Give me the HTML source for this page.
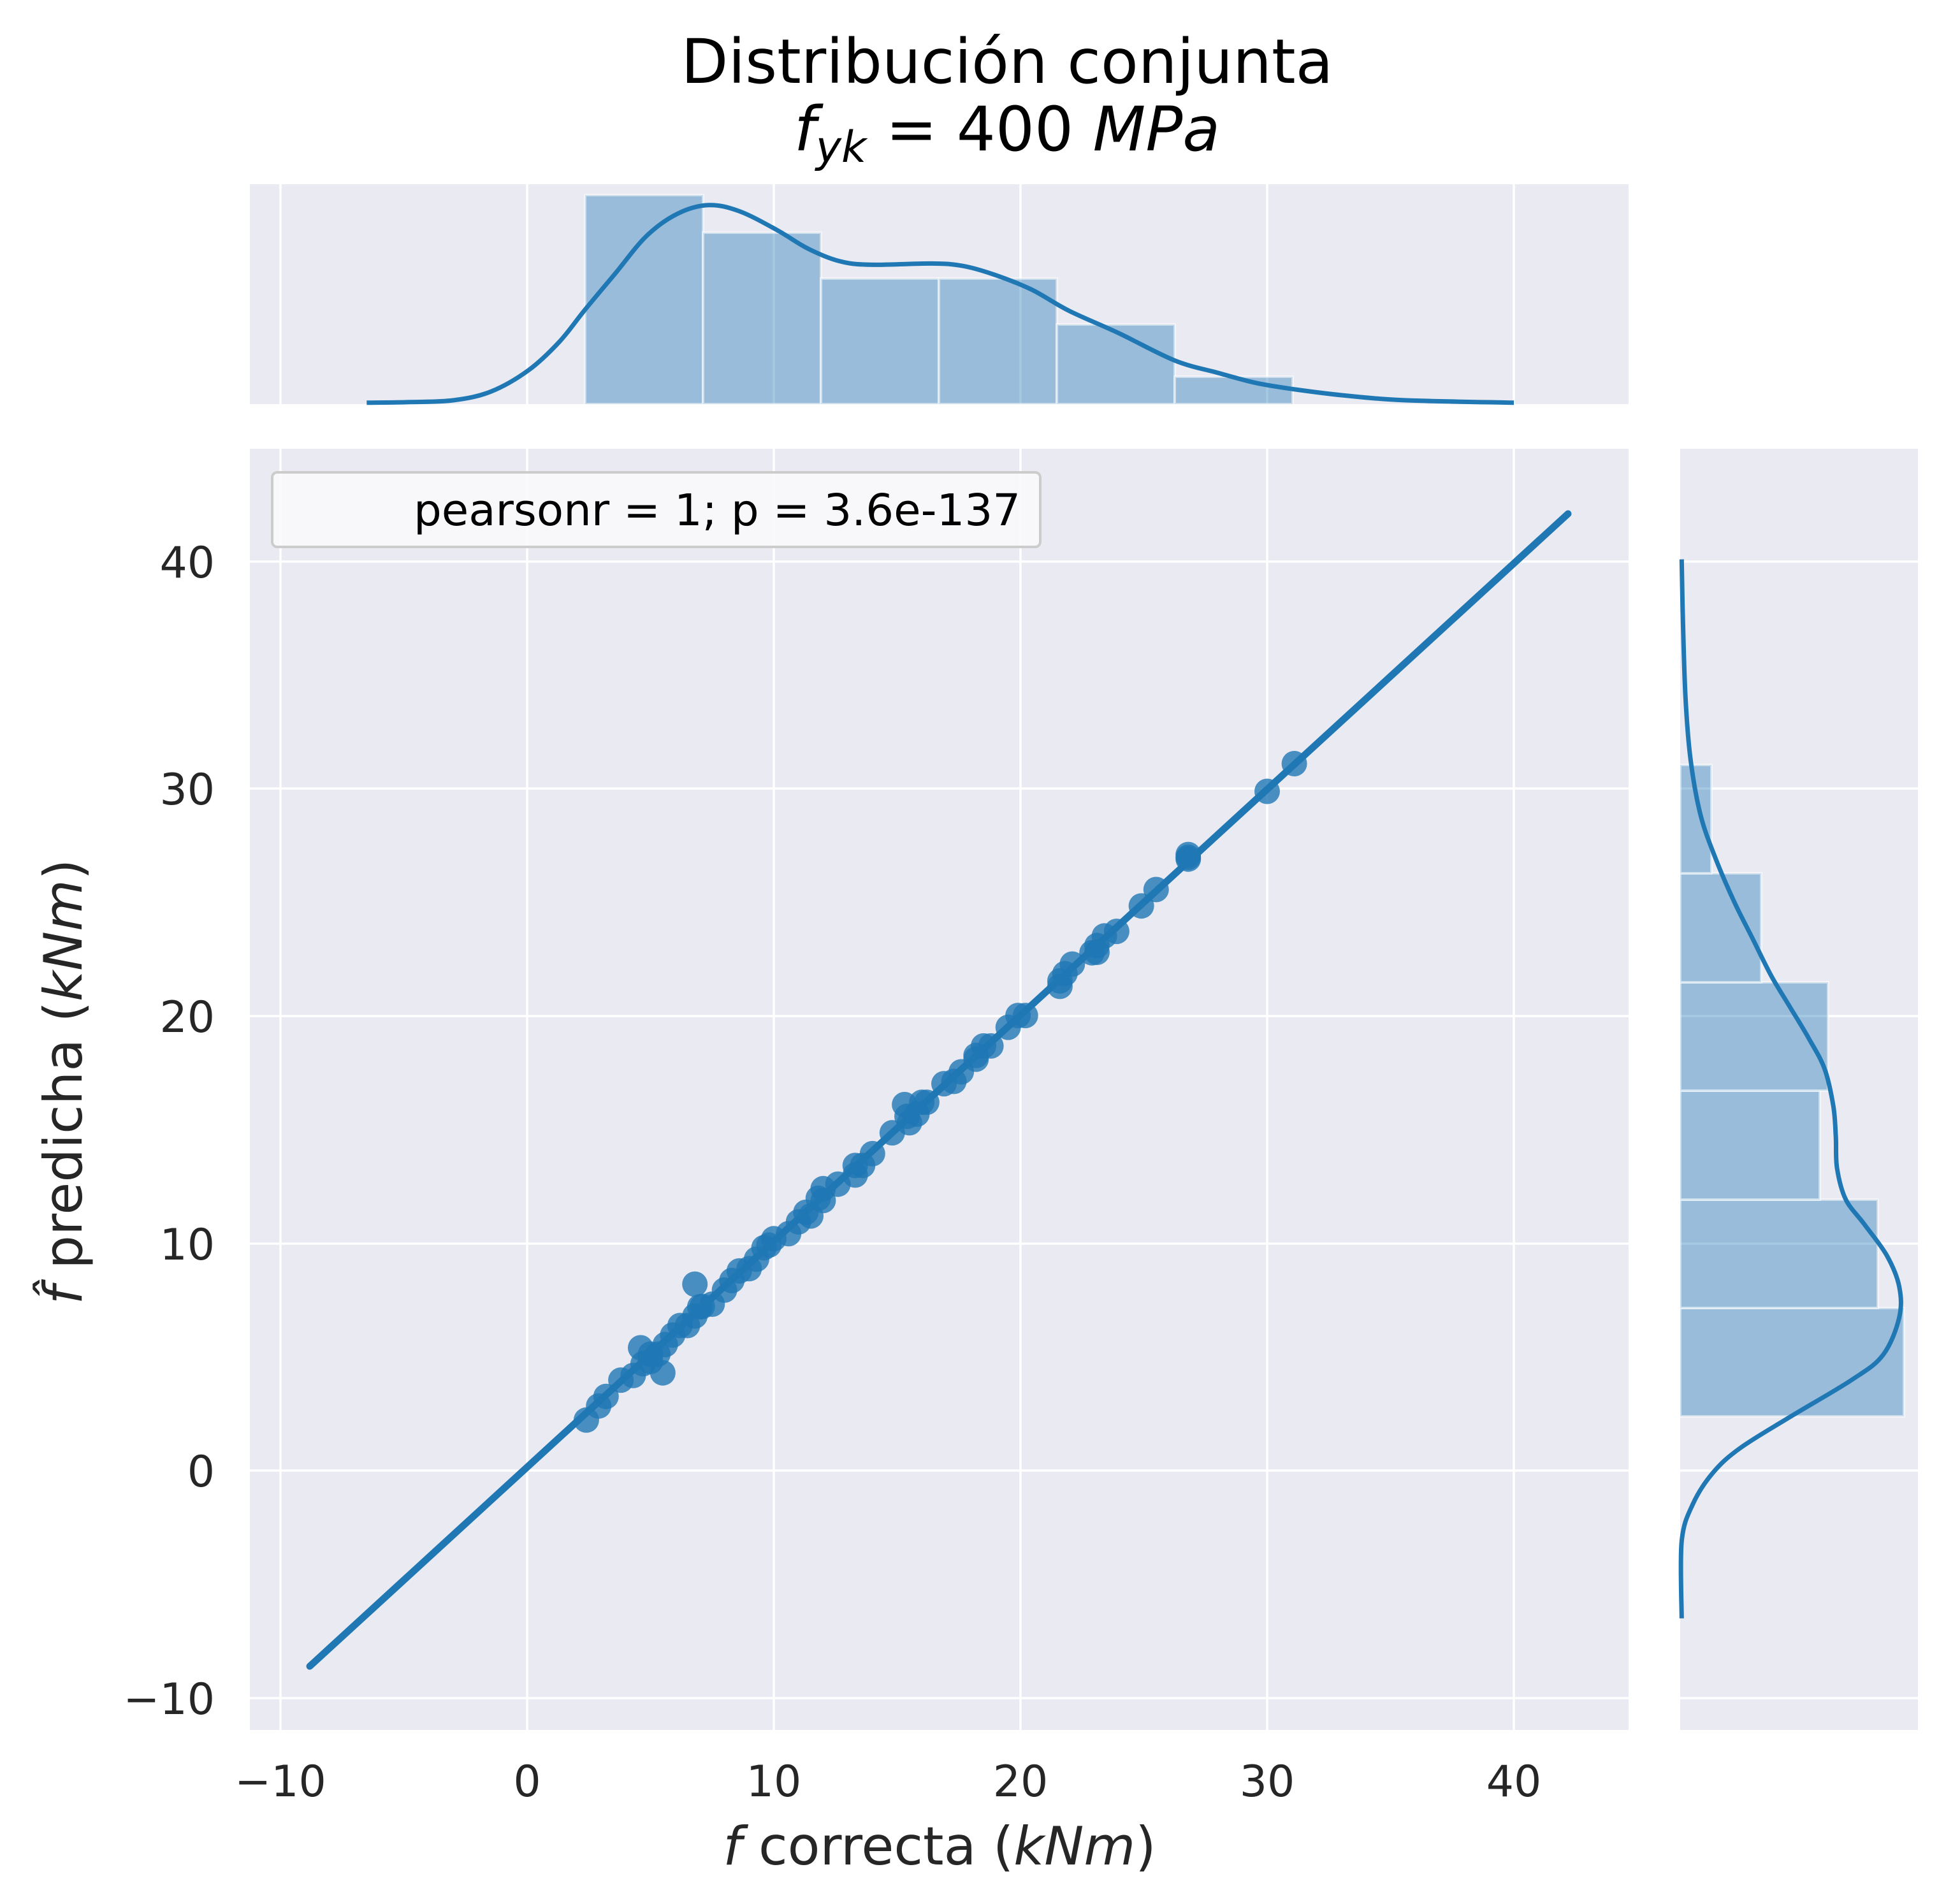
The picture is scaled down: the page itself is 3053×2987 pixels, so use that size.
<!DOCTYPE html>
<html><head><meta charset="utf-8"><style>html,body{margin:0;padding:0;background:#fff}svg{display:block}</style></head>
<body>
<svg id="s" xmlns="http://www.w3.org/2000/svg" width="3053" height="2987" viewBox="0 0 3053 2987" font-family="'DejaVu Sans','Liberation Sans',sans-serif">
<rect width="3053" height="2987" fill="#fff"/>
<!-- top marginal -->
<rect x="392" y="289" width="2163" height="345" fill="#eaeaf2"/>
<g stroke="#fff" stroke-width="3.5">
<line x1="440" y1="289" x2="440" y2="634"/><line x1="827" y1="289" x2="827" y2="634"/><line x1="1214" y1="289" x2="1214" y2="634"/><line x1="1601" y1="289" x2="1601" y2="634"/><line x1="1988" y1="289" x2="1988" y2="634"/><line x1="2375" y1="289" x2="2375" y2="634"/>
</g>
<g fill="#1f77b4" fill-opacity="0.4" stroke="#fff" stroke-opacity="0.5" stroke-width="4">
<rect x="918" y="306" width="185" height="328"/><rect x="1103" y="365" width="185" height="269"/><rect x="1288" y="437" width="185" height="197"/><rect x="1473" y="437" width="185" height="197"/><rect x="1658" y="509" width="185" height="125"/><rect x="1843" y="591" width="185" height="43"/>
</g>
<path id="kt" fill="none" stroke="#1f77b4" stroke-width="7" stroke-linejoin="round"/>
<!-- main -->
<rect x="392" y="704" width="2163" height="2010" fill="#eaeaf2"/>
<g stroke="#fff" stroke-width="3.5">
<line x1="440" y1="704" x2="440" y2="2714"/><line x1="827" y1="704" x2="827" y2="2714"/><line x1="1214" y1="704" x2="1214" y2="2714"/><line x1="1601" y1="704" x2="1601" y2="2714"/><line x1="1988" y1="704" x2="1988" y2="2714"/><line x1="2375" y1="704" x2="2375" y2="2714"/>
<line x1="392" y1="881" x2="2555" y2="881"/><line x1="392" y1="1237" x2="2555" y2="1237"/><line x1="392" y1="1594" x2="2555" y2="1594"/><line x1="392" y1="1951" x2="2555" y2="1951"/><line x1="392" y1="2307" x2="2555" y2="2307"/><line x1="392" y1="2664" x2="2555" y2="2664"/>
</g>
<line x1="486" y1="2614" x2="2460" y2="806" stroke="#1f77b4" stroke-width="11" stroke-linecap="round"/>
<g id="pts" fill="#1f77b4" fill-opacity="0.8"></g>
<!-- legend -->
<rect x="427" y="741" width="1205" height="117" rx="8" fill="#fafafc" fill-opacity="0.9" stroke="#cccccc" stroke-width="4"/>
<text x="649" y="824" font-size="69" fill="#000">pearsonr = 1; p = 3.6e-137</text>
<!-- right marginal -->
<rect x="2636" y="704" width="373" height="2010" fill="#eaeaf2"/>
<g stroke="#fff" stroke-width="3.5">
<line x1="2636" y1="881" x2="3009" y2="881"/><line x1="2636" y1="1237" x2="3009" y2="1237"/><line x1="2636" y1="1594" x2="3009" y2="1594"/><line x1="2636" y1="1951" x2="3009" y2="1951"/><line x1="2636" y1="2307" x2="3009" y2="2307"/><line x1="2636" y1="2664" x2="3009" y2="2664"/>
</g>
<g fill="#1f77b4" fill-opacity="0.4" stroke="#fff" stroke-opacity="0.5" stroke-width="4">
<rect x="2636" y="2052" width="351" height="170"/><rect x="2636" y="1882" width="310" height="170"/><rect x="2636" y="1711" width="219" height="171"/><rect x="2636" y="1541" width="232" height="170"/><rect x="2636" y="1370" width="127" height="171"/><rect x="2636" y="1200" width="49" height="170"/>
</g>
<path id="kr" fill="none" stroke="#1f77b4" stroke-width="7" stroke-linejoin="round"/>
<!-- tick labels -->
<g font-size="68" fill="#262626" text-anchor="middle">
<text x="440" y="2818">−10</text><text x="827" y="2818">0</text><text x="1214" y="2818">10</text><text x="1601" y="2818">20</text><text x="1988" y="2818">30</text><text x="2375" y="2818">40</text>
</g>
<g font-size="68" fill="#262626" text-anchor="end">
<text x="337" y="906">40</text><text x="337" y="1262">30</text><text x="337" y="1619">20</text><text x="337" y="1976">10</text><text x="337" y="2332">0</text><text x="337" y="2689">−10</text>
</g>
<text x="1474" y="2925" font-size="83" fill="#262626" text-anchor="middle"><tspan font-style="italic">f</tspan> correcta (<tspan font-style="italic">kNm</tspan>)</text>
<text transform="translate(128,1697) rotate(-90)" font-size="83" fill="#262626" text-anchor="middle"><tspan font-style="italic">f̂</tspan> predicha (<tspan font-style="italic">kNm</tspan>)</text>
<text x="1580" y="130" font-size="96" fill="#000" text-anchor="middle">Distribución conjunta</text>
<text x="1580" y="236" font-size="96" fill="#000" text-anchor="middle"><tspan font-style="italic">f</tspan><tspan font-style="italic" font-size="68" dy="18">yk</tspan><tspan dy="-18"> = 400 </tspan><tspan font-style="italic">MPa</tspan></text>
</svg>
<script>
(function(){
var f=1.95;
function P(a){
 var p=a.map(function(q){return [q[0]*f,q[1]*f]});
 var d='M'+p[0][0].toFixed(1)+' '+p[0][1].toFixed(1);
 for(var i=0;i<p.length-1;i++){
  var p0=p[i-1]||p[i],p1=p[i],p2=p[i+1],p3=p[i+2]||p2;
  var c1=[p1[0]+(p2[0]-p0[0])/6,p1[1]+(p2[1]-p0[1])/6],c2=[p2[0]-(p3[0]-p1[0])/6,p2[1]-(p3[1]-p1[1])/6];
  d+=' C'+c1[0].toFixed(1)+' '+c1[1].toFixed(1)+' '+c2[0].toFixed(1)+' '+c2[1].toFixed(1)+' '+p2[0].toFixed(1)+' '+p2[1].toFixed(1);
 }
 return d;
}
var tk=[[295,324],[330,323.5],[365,322],[395,315],[425,298],[450,275],[470,250],[495,220],[520,190],[545,172],[570,165],[595,170],[625,185],[650,200],[675,210],[700,213],[750,212],[775,214],[800,221],[830,233],[860,250],[900,268],[945,290],[980,300],[1010,308],[1040,313],[1080,318],[1130,322],[1218,324]];
document.getElementById('kt').setAttribute('d',P(tk));
var r=[[1353,1302],[1353,1240],[1362,1210],[1378,1185],[1400,1165],[1440,1140],[1490,1110],[1515,1090],[1528,1060],[1528,1035],[1518,1010],[1500,985],[1485,965],[1478,940],[1477,915],[1475,890],[1468,860],[1455,835],[1440,810],[1425,785],[1410,755],[1395,725],[1380,690],[1368,655],[1360,610],[1356,560],[1354,500],[1353,450]];
document.getElementById('kr').setAttribute('d',P(r));
var xs=[2.4,2.9,3.2,3.8,4.3,4.7,5.0,5.3,5.6,5.9,6.2,6.5,6.8,7.1,7.5,8.0,8.3,8.6,9.0,9.3,9.8,10.6,11.0,11.3,11.8,12.0,12.6,13.3,13.6,14.0,14.8,15.4,15.8,16.2,16.9,17.3,17.6,18.2,18.5,18.8,19.5,19.9,20.2,21.6,21.8,22.1,22.9,23.1,23.4,23.9,24.9,25.5,26.8,30,31.1];
var pts=xs.map(function(x,i){return [x,x+((i*37)%7-3)*0.06]});
pts=pts.concat([[6.8,8.2],[4.6,5.4],[5.5,4.3],[15.3,16.1],[15.5,15.3],[26.8,27.1],[26.8,26.9],[12.0,12.4],[21.6,21.3],[23.1,22.8],[13.3,13.0],[18.2,18.1],[10.0,10.2],[7.0,7.2],[5.0,4.8],[9.6,9.8],[16.0,16.2],[11.5,11.2]]);
var g=document.getElementById('pts'),NS='http://www.w3.org/2000/svg';
pts.forEach(function(p){var c=document.createElementNS(NS,'circle');c.setAttribute('cx',(827+38.7*p[0]).toFixed(1));c.setAttribute('cy',(2307-35.66*p[1]).toFixed(1));c.setAttribute('r','20');g.appendChild(c);});
})();
</script>
</body></html>
